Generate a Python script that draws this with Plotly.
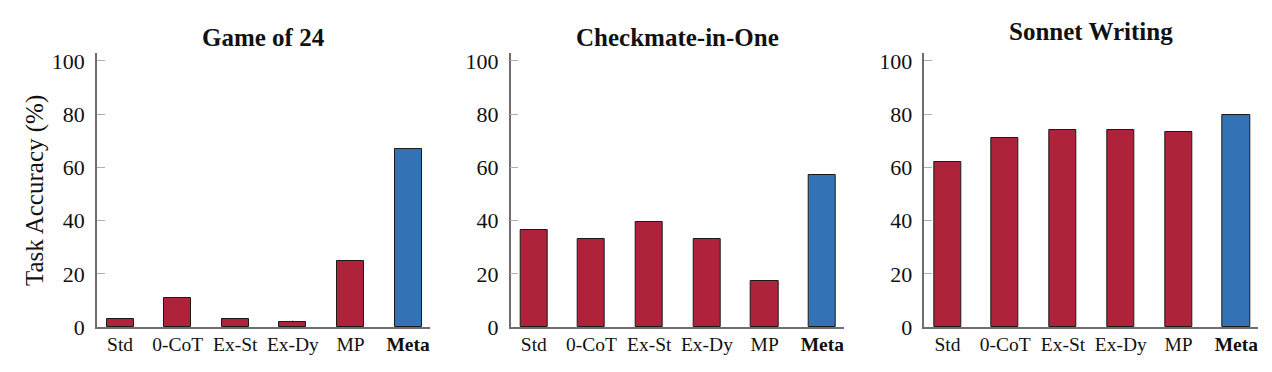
import plotly.graph_objects as go

categories = ["Std", "0-CoT", "Ex-St", "Ex-Dy", "MP", "Meta"]
tick_labels = ["Std", "0-CoT", "Ex-St", "Ex-Dy", "MP", "<b>Meta</b>"]
panel_titles = ["Game of 24", "Checkmate-in-One", "Sonnet Writing"]
game24 = [3, 11, 3, 2, 25, 67]
checkmate = [36.4, 33.0, 39.6, 33.2, 17.2, 57.2]
sonnet = [62.0, 71.2, 74.0, 74.0, 73.2, 79.6]
y_ticks = [0, 20, 40, 60, 80, 100]
y_title = "Task Accuracy (%)"

RED = "#AF233A"
BLUE = "#3372B5"
bar_colors = [RED, RED, RED, RED, RED, BLUE]
FONT = "Liberation Serif"

W, H = 1272, 372
domains_px = [(97, 430), (510.7, 844.3), (924.3, 1258.3)]
y_dom = [(H - 327) / H, (H - 53) / H]

fig = go.Figure()
series = [game24, checkmate, sonnet]
for i, vals in enumerate(series):
    sfx = "" if i == 0 else str(i + 1)
    fig.add_trace(go.Bar(
        x=categories, y=vals, width=0.47,
        marker=dict(color=bar_colors, line=dict(color="#1a1a1a", width=1)),
        xaxis="x" + sfx, yaxis="y" + sfx, showlegend=False,
    ))
    x0, x1 = domains_px[i]
    fig.update_layout(**{
        "xaxis" + sfx: dict(
            domain=[x0 / W, x1 / W], anchor="y" + sfx,
            type="category", range=[-0.4, 5.38],
            tickvals=categories, ticktext=tick_labels,
            showline=True, linecolor="#6e6e6e", linewidth=1.5,
            ticks="inside", ticklen=7, tickcolor="#b0b0b0", tickwidth=1,
            tickfont=dict(family=FONT, size=19.5, color="#111"),
            showgrid=False, zeroline=False, layer="below traces",
            ticklabelstandoff=-1, fixedrange=True, automargin=False,
        ),
        "yaxis" + sfx: dict(
            domain=y_dom, anchor="x" + sfx, range=[0, 103],
            tickvals=y_ticks,
            showline=True, linecolor="#6e6e6e", linewidth=1.5,
            ticks="inside", ticklen=8, tickcolor="#b0b0b0", tickwidth=1,
            tickfont=dict(family=FONT, size=22, color="#111"),
            showgrid=False, zeroline=False, layer="below traces",
            ticklabelstandoff=6, fixedrange=True, automargin=False,
        ),
    })

title_y_px = [37, 37, 31]
annotations = []
for i, t in enumerate(panel_titles):
    x0, x1 = domains_px[i]
    annotations.append(dict(
        text="<b>" + t + "</b>", x=(x0 + x1) / 2 / W, y=(H - title_y_px[i]) / H,
        xref="paper", yref="paper", xanchor="center", yanchor="middle",
        showarrow=False, font=dict(family=FONT, size=25, color="#111"),
    ))
annotations.append(dict(
    text=y_title, x=35 / W, y=(H - 191) / H, xref="paper", yref="paper",
    xanchor="center", yanchor="middle", textangle=-90, showarrow=False,
    font=dict(family=FONT, size=25, color="#111"),
))

fig.update_layout(
    width=W, height=H, margin=dict(l=0, r=0, t=0, b=0, autoexpand=False),
    paper_bgcolor="white", plot_bgcolor="white",
    annotations=annotations, bargap=0,
)
fig.write_html(
    "out.html",
    config={"displayModeBar": False},
    post_script="document.body.style.margin='0';document.body.style.overflow='hidden';",
)
